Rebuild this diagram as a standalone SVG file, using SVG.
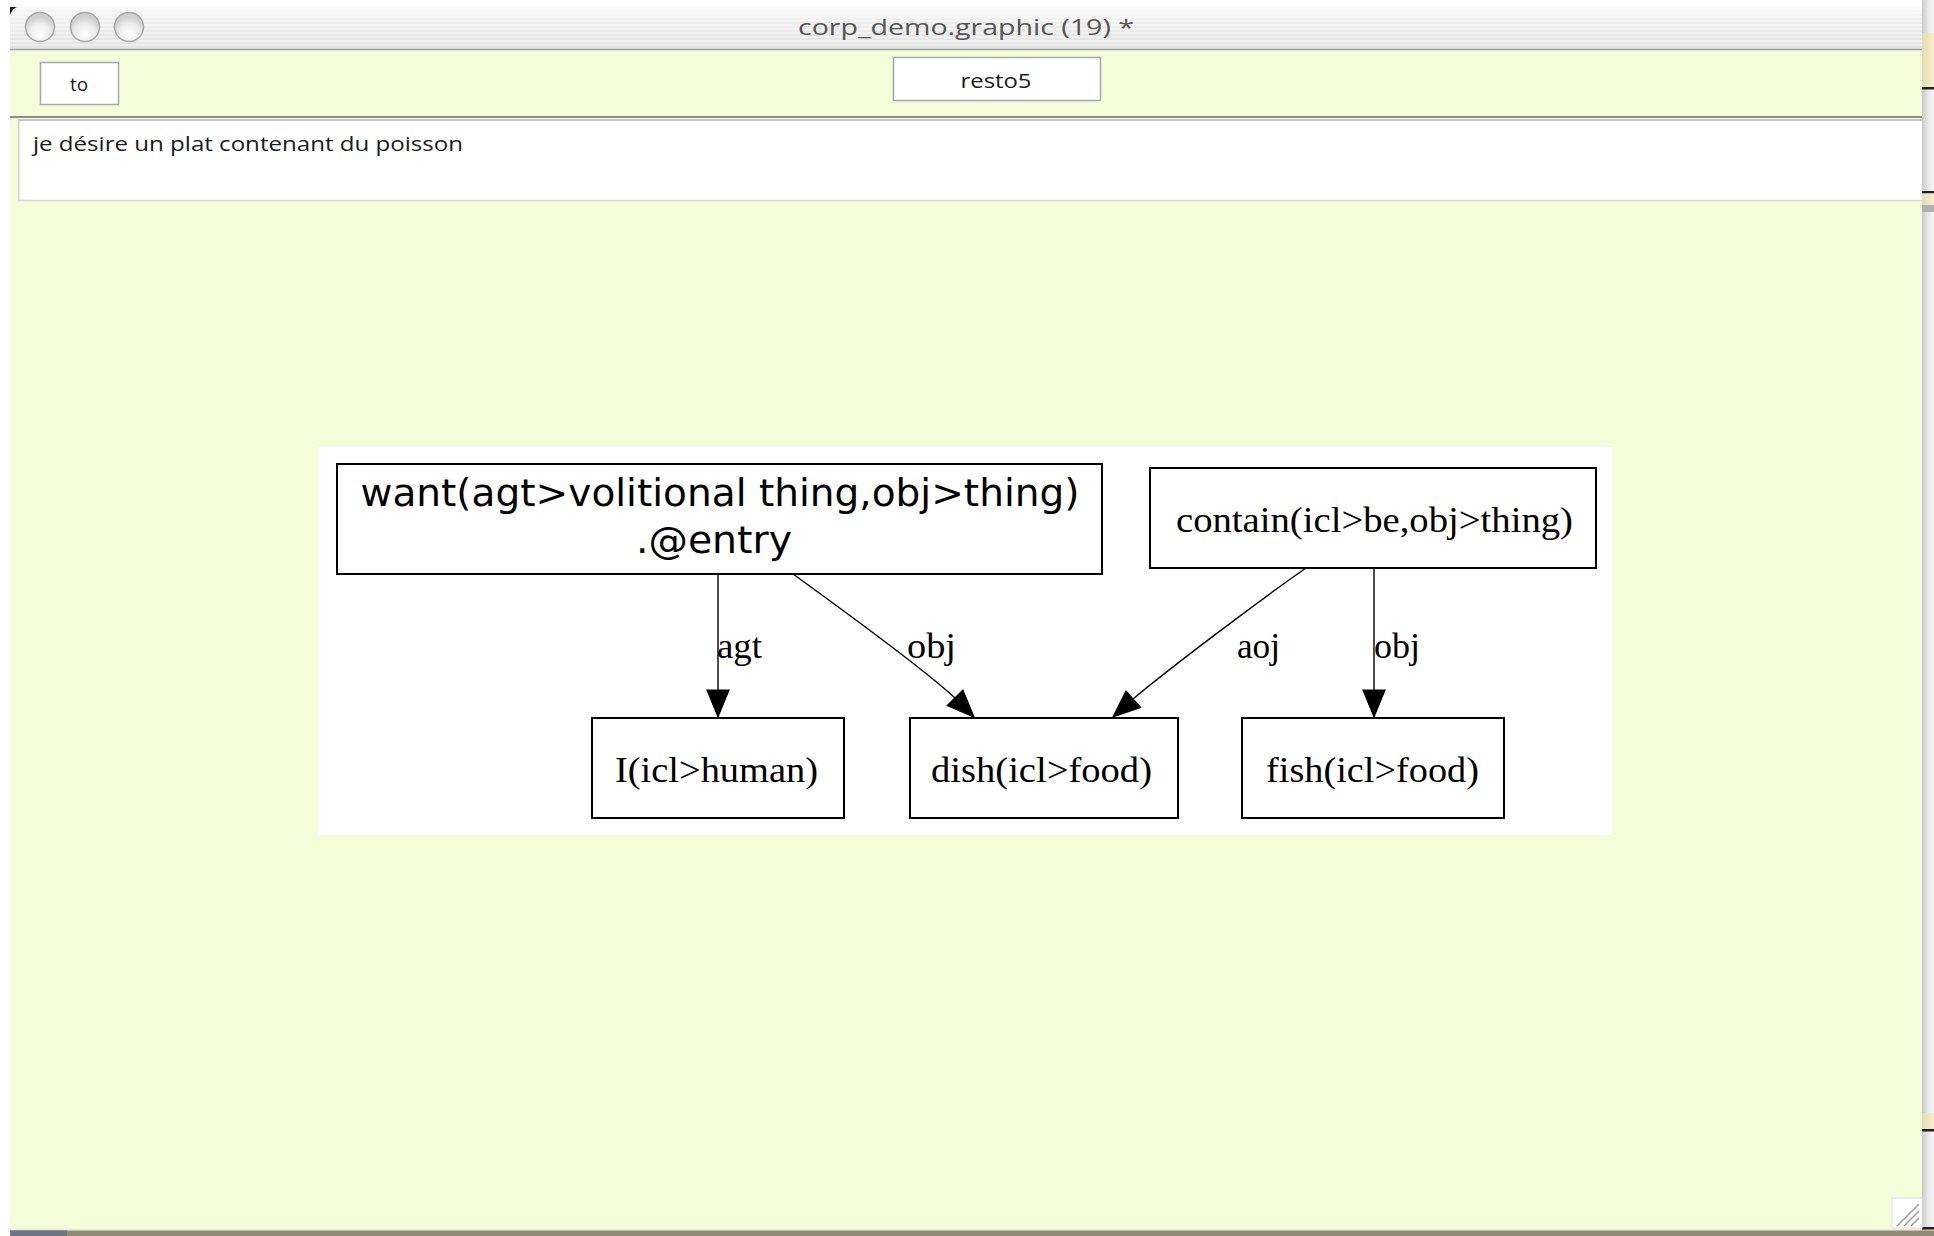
<svg xmlns="http://www.w3.org/2000/svg" width="1934" height="1236" viewBox="0 0 1934 1236">
  <defs>
    <linearGradient id="titleGrad" x1="0" y1="0" x2="0" y2="1">
      <stop offset="0" stop-color="#f6f6f6"/>
      <stop offset="1" stop-color="#e2e2e2"/>
    </linearGradient>
    <pattern id="pinstripe" width="4" height="4" patternUnits="userSpaceOnUse">
      <rect width="4" height="2" fill="#ffffff" fill-opacity="0.35"/>
    </pattern>
    <radialGradient id="btnGrad" cx="0.5" cy="0.75" r="0.6">
      <stop offset="0" stop-color="#ffffff"/>
      <stop offset="0.6" stop-color="#ececec"/>
      <stop offset="1" stop-color="#cfcfcf"/>
    </radialGradient>
    <linearGradient id="edgeShade" x1="0" y1="0" x2="1" y2="0">
      <stop offset="0" stop-color="#c9c9c9"/>
      <stop offset="0.5" stop-color="#e8e8e8"/>
      <stop offset="1" stop-color="#f6f6f6"/>
    </linearGradient>
    <linearGradient id="tabShade" x1="0" y1="0" x2="1" y2="0">
      <stop offset="0" stop-color="#e4dcb4"/>
      <stop offset="1" stop-color="#f6efcf"/>
    </linearGradient>
  </defs>
  <style>
    .ui { font-family: "Open Sans", "DejaVu Sans", sans-serif; fill: #1a1a1a; }
    .field { fill: #ffffff; stroke: #a8a8a8; stroke-width: 1.5; }
    .node rect { fill: #ffffff; stroke: #000000; stroke-width: 2; }
    .serif { font-family: "Liberation Serif", "Times New Roman", serif; font-size: 36px; fill: #000000; }
    .sans { font-family: "DejaVu Sans", "Bitstream Vera Sans", sans-serif; font-size: 37px; fill: #000000; }
    .edge { fill: none; stroke: #000000; stroke-width: 1.4; }
    .head { fill: #000000; stroke: #000000; stroke-width: 1.2; stroke-linejoin: miter; }
  </style>

  <!-- desktop behind the window -->
  <rect x="0" y="0" width="1934" height="1236" fill="#ffffff"/>

  <!-- neighbouring window edge on the right -->
  <g id="side-strip">
    <rect x="1922" y="0" width="12" height="1236" fill="url(#edgeShade)"/>
    <rect x="1922" y="33" width="12" height="55" fill="url(#tabShade)"/>
    <rect x="1922" y="87" width="12" height="2.5" fill="#1e1e1e"/>
    <rect x="1922" y="191" width="12" height="2.5" fill="#1e1e1e"/>
    <rect x="1922" y="193.5" width="12" height="11.5" fill="url(#tabShade)"/>
    <rect x="1922" y="205" width="12" height="7" fill="#b0b0b0"/>
    <rect x="1922" y="1113" width="12" height="16" fill="url(#tabShade)"/>
    <rect x="1922" y="1129" width="12" height="2.5" fill="#1e1e1e"/>
    <rect x="1922" y="1227" width="12" height="2.5" fill="#1e1e1e"/>
  </g>

  <!-- window frame -->
  <g id="window">
    <rect x="10" y="7" width="1912" height="1222" fill="#f4fcd9"/>
    <!-- title bar -->
    <path d="M10,7 H1914 Q1922,7 1922,15 V49 H10 Z" fill="url(#titleGrad)"/>
    <path d="M10,7 H1914 Q1922,7 1922,15 V49 H10 Z" fill="url(#pinstripe)"/>
    <line x1="10" y1="49.5" x2="1922" y2="49.5" stroke="#9a9a9a" stroke-width="1.5"/>
    <path d="M10,7 L17,7 Q12,9 10,15 Z" fill="#1a1a1a"/>
    <circle cx="40" cy="27" r="14.5" fill="url(#btnGrad)" stroke="#a8a8a8" stroke-width="1.5"/>
    <circle cx="85" cy="27" r="14.5" fill="url(#btnGrad)" stroke="#a8a8a8" stroke-width="1.5"/>
    <circle cx="129" cy="27" r="14.5" fill="url(#btnGrad)" stroke="#a8a8a8" stroke-width="1.5"/>
    <text x="966" y="35" text-anchor="middle" font-family="Open Sans, DejaVu Sans, sans-serif" font-size="22" fill="#555555" textLength="336" lengthAdjust="spacingAndGlyphs">corp_demo.graphic (19) *</text>

    <!-- toolbar fields -->
    <rect class="field" x="40.5" y="62.5" width="78" height="42"/>
    <text class="ui" x="79" y="91" text-anchor="middle" font-size="19">to</text>
    <rect class="field" x="893.5" y="57.5" width="207" height="43"/>
    <text class="ui" x="996" y="88" text-anchor="middle" font-size="20" textLength="71" lengthAdjust="spacingAndGlyphs">resto5</text>
    <line x1="10" y1="117" x2="1922" y2="117" stroke="#8c8c8c" stroke-width="2"/>

    <!-- sentence field -->
    <rect x="18" y="119" width="1904" height="81" fill="#ffffff"/>
    <line x1="18" y1="120" x2="1922" y2="120" stroke="#c4c4c4" stroke-width="2"/>
    <line x1="18.75" y1="120" x2="18.75" y2="200" stroke="#d0d0d0" stroke-width="1.5"/>
    <line x1="18" y1="200.5" x2="1922" y2="200.5" stroke="#d8d8d8" stroke-width="1.5"/>
    <text class="ui" x="33" y="151" font-size="20" textLength="430" lengthAdjust="spacingAndGlyphs">je désire un plat contenant du poisson</text>

    <!-- resize grip -->
    <rect x="1892" y="1198" width="30" height="30" fill="#ffffff" stroke="#e0e0e0" stroke-width="1"/>
    <g stroke="#9a9a9a" stroke-width="1.5">
      <line x1="1897" y1="1226" x2="1919" y2="1204"/>
      <line x1="1904" y1="1226" x2="1919" y2="1211"/>
      <line x1="1911" y1="1226" x2="1919" y2="1218"/>
    </g>
  </g>

  <!-- dock strip along the bottom -->
  <rect x="10" y="1229" width="1912" height="1.5" fill="#e8e8dc"/>
  <rect x="10" y="1230.5" width="1924" height="5.5" fill="#8e8a76"/>
  <rect x="10" y="1230.5" width="57" height="5.5" fill="#6e7580"/>

  <!-- graph canvas -->
  <rect x="318" y="447" width="1294" height="388" fill="#ffffff"/>

  <!-- connectors -->
  <g id="connectors">
    <g id="e-agt">
      <line class="edge" x1="718" y1="574" x2="718" y2="692"/>
      <polygon class="head" points="707,690 729,690 718,717"/>
      <text class="serif" x="717" y="658" font-size="31" textLength="45" lengthAdjust="spacingAndGlyphs">agt</text>
    </g>
    <g id="e-obj-dish">
      <path class="edge" d="M793,574 C840,608 925,670 955,698"/>
      <polygon class="head" points="947.3,705.5 962.9,690.1 974,717"/>
      <text class="serif" x="907" y="658" font-size="31" textLength="49" lengthAdjust="spacingAndGlyphs">obj</text>
    </g>
    <g id="e-aoj">
      <path class="edge" d="M1306,568 C1260,600 1170,668 1133,699"/>
      <polygon class="head" points="1140.6,707.4 1126,691 1113,717"/>
      <text class="serif" x="1237" y="658" font-size="31" textLength="43" lengthAdjust="spacingAndGlyphs">aoj</text>
    </g>
    <g id="e-obj-fish">
      <line class="edge" x1="1374" y1="568" x2="1374" y2="692"/>
      <polygon class="head" points="1363,690 1385,690 1374,717"/>
      <text class="serif" x="1374" y="658" font-size="31" textLength="46" lengthAdjust="spacingAndGlyphs">obj</text>
    </g>
  </g>

  <!-- nodes -->
  <g id="n-want" class="node">
    <rect x="337" y="464" width="765" height="110"/>
    <text class="sans" x="720" y="506" text-anchor="middle" textLength="719" lengthAdjust="spacingAndGlyphs">want(agt&gt;volitional thing,obj&gt;thing)</text>
    <text class="sans" x="714" y="553" text-anchor="middle" textLength="156" lengthAdjust="spacingAndGlyphs">.@entry</text>
  </g>
  <g id="n-contain" class="node">
    <rect x="1150" y="468" width="446" height="100"/>
    <text class="serif" x="1374.5" y="532" text-anchor="middle" textLength="397" lengthAdjust="spacingAndGlyphs">contain(icl&gt;be,obj&gt;thing)</text>
  </g>
  <g id="n-i" class="node">
    <rect x="592" y="718" width="252" height="100"/>
    <text class="serif" x="716.5" y="782" text-anchor="middle" textLength="203" lengthAdjust="spacingAndGlyphs">I(icl&gt;human)</text>
  </g>
  <g id="n-dish" class="node">
    <rect x="910" y="718" width="268" height="100"/>
    <text class="serif" x="1041.5" y="782" text-anchor="middle" textLength="221" lengthAdjust="spacingAndGlyphs">dish(icl&gt;food)</text>
  </g>
  <g id="n-fish" class="node">
    <rect x="1242" y="718" width="262" height="100"/>
    <text class="serif" x="1372.5" y="782" text-anchor="middle" textLength="213" lengthAdjust="spacingAndGlyphs">fish(icl&gt;food)</text>
  </g>
</svg>
